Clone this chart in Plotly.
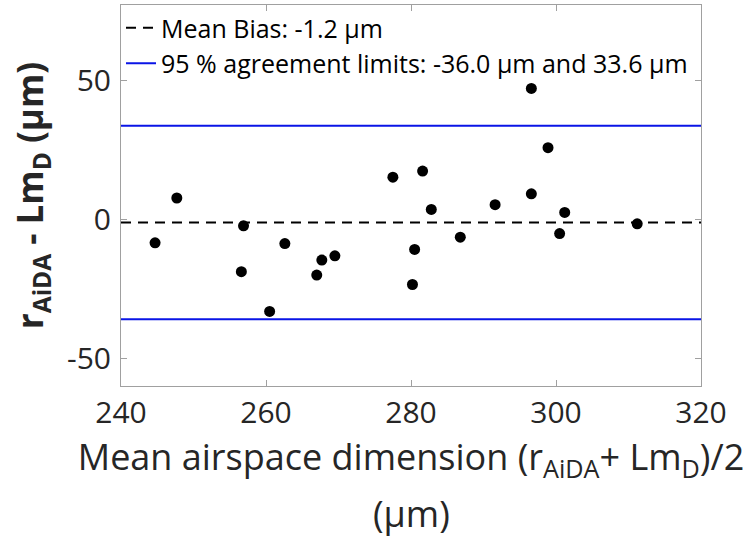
import plotly.graph_objects as go

# Data
mean_dim = [244.7, 247.7, 256.9, 256.6, 260.5, 262.6, 267.0, 267.7, 269.5, 277.5, 281.6,
            280.5, 280.2, 282.8, 286.8, 291.6, 296.6, 296.6, 298.9, 300.5, 301.2, 311.2]
diff_um = [-8.5, 7.6, -2.4, -18.9, -33.2, -8.8, -20.1, -14.7, -13.2, 15.1, 17.3,
           -10.9, -23.5, 3.5, -6.5, 5.2, 47.0, 9.1, 25.7, -5.2, 2.4, -1.7]
mean_bias = -1.2
loa_low = -36.0
loa_high = 33.6
x_range = [240, 320]
y_range = [-60, 77]
x_ticks = [240, 260, 280, 300, 320]
y_ticks = [-50, 0, 50]
y_tick_labels = ["-50", "0", "50"]

FONT = "Open Sans"
TXT = "rgb(38,38,38)"
AX = "rgb(160,160,160)"

fig = go.Figure()

fig.add_trace(go.Scatter(
    x=x_range, y=[mean_bias, mean_bias], mode="lines",
    line=dict(color="black", width=2, dash="10px,7px"),
    name=f"Mean Bias: {mean_bias:.1f} µm",
))
fig.add_trace(go.Scatter(
    x=[x_range[0], x_range[1], None, x_range[0], x_range[1]],
    y=[loa_low, loa_low, None, loa_high, loa_high], mode="lines",
    line=dict(color="rgb(10,20,230)", width=2),
    name=f"95 % agreement limits: {loa_low:.1f} µm and {loa_high:.1f} µm",
))
fig.add_trace(go.Scatter(
    x=mean_dim, y=diff_um, mode="markers",
    marker=dict(color="black", size=11),
    showlegend=False,
))

fig.update_layout(
    width=750, height=540,
    margin=dict(l=121, r=49, t=5, b=154),
    paper_bgcolor="white", plot_bgcolor="white",
    font=dict(family=FONT, color=TXT),
    showlegend=True,
    legend=dict(x=0, y=1, xanchor="left", yanchor="top",
                bgcolor="rgba(0,0,0,0)", borderwidth=0,
                font=dict(family=FONT, size=25, color="black"),
                itemwidth=30, tracegroupgap=0),
    xaxis=dict(
        range=x_range, tickvals=x_ticks, showgrid=False, zeroline=False,
        showline=True, linecolor=AX, linewidth=1, mirror="ticks",
        ticks="inside", ticklen=6, tickcolor=AX,
        tickfont=dict(family=FONT, size=30, color=TXT),
        ticklabelstandoff=0,
        title=dict(text="Mean airspace dimension (r<sub>AiDA</sub>+ Lm<sub>D</sub>)/2",
                   font=dict(family=FONT, size=36, color=TXT), standoff=8),
    ),
    yaxis=dict(
        range=y_range, tickvals=y_ticks, ticktext=y_tick_labels,
        showgrid=False, zeroline=False,
        showline=True, linecolor=AX, linewidth=1, mirror="ticks",
        ticks="inside", ticklen=6, tickcolor=AX,
        tickfont=dict(family=FONT, size=30, color=TXT),
        ticklabelstandoff=3,
        title=dict(text="<b>r<sub>AiDA</sub> - Lm<sub>D</sub> (µm)</b>",
                   font=dict(family=FONT, size=35, color=TXT), standoff=12),
    ),
    annotations=[dict(text="(µm)", x=0.5, y=0, xref="paper", yref="paper",
                      xanchor="center", yanchor="bottom", yshift=-154, showarrow=False,
                      font=dict(family=FONT, size=36, color=TXT))],
)

fig.write_html("out.html", config={"displayModeBar": False},
               post_script="document.body.style.margin='0';")
